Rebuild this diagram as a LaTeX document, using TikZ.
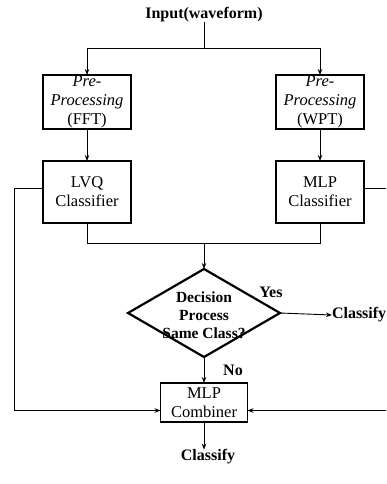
\documentclass[tikz,border=0pt]{standalone}
\usepackage{fontspec}
\setmainfont{Liberation Serif}
\usetikzlibrary{shapes.geometric,arrows.meta}
\begin{document}
\begin{tikzpicture}[x=1pt,y=-1pt,
  every node/.style={inner sep=0pt, outer sep=0pt},
  procbox/.style={draw, line width=1.5pt, align=center, font=\fontsize{16.5}{19}\selectfont},
  decbox/.style={draw, diamond, line width=2.2pt, minimum width=152pt, minimum height=88pt},
  lbl/.style={font=\bfseries\fontsize{16}{18}\selectfont, align=center},
  conn/.style={line width=0.9pt},
  arr/.style={conn, -{Stealth[length=6pt,width=4.5pt]}}]
\useasboundingbox (0,0) rectangle (386,484);
\clip (0,0) rectangle (386,484);

% input and the two preprocessing branches
\node[lbl] (inp) at (204,15) {Input(waveform)};
\coordinate (split) at (204,48);
\node[procbox, minimum width=88pt, minimum height=54pt] (pre1) at (87,102) {\itshape Pre-\\\itshape Processing\\(FFT)};
\node[procbox, minimum width=88pt, minimum height=54pt] (pre2) at (320,102) {\itshape Pre-\\\itshape Processing\\(WPT)};

% classifiers
\node[procbox, minimum width=88pt, minimum height=62pt] (lvq) at (87,192) {LVQ\\Classifier};
\node[procbox, minimum width=88pt, minimum height=62pt] (mlpc) at (320,192) {MLP\\Classifier};

% decision
\coordinate (merge) at (204,243);
\node[decbox] (dec) at (204,313) {};
\node[lbl, font=\bfseries\fontsize{15.5}{18}\selectfont] (dectext) at (204,315) {Decision\\Process\\Same Class?};
\node[lbl] (yes) at (271,292) {Yes};
\node[lbl, anchor=west] (cls1) at (332,315) {Classify};
\node[lbl] (no) at (233,370) {No};

% combiner
\node[procbox, minimum width=87pt, minimum height=39pt] (comb) at (204,402.5) {MLP\\Combiner};
\node[lbl] (cls2) at (208,457) {Classify};

% side feeds into the combiner
\coordinate (lvqout) at ([yshift=4pt]lvq.west);
\coordinate (mlpout) at ([yshift=4pt]mlpc.east);
\coordinate (combl) at ([yshift=-8pt]comb.west);
\coordinate (combr) at ([yshift=-8pt]comb.east);

\draw[conn] (inp.south) -- (split);
\draw[arr] (split) -| (pre1.north);
\draw[arr] (split) -| (pre2.north);
\draw[arr] (pre1.south) -- (lvq.north);
\draw[arr] (pre2.south) -- (mlpc.north);
\draw[conn] (lvq.south) |- (merge);
\draw[conn] (mlpc.south) |- (merge);
\draw[arr] (merge) -- (dec.north);
\draw[arr] (dec.east) -- (cls1.west);
\draw[arr] (dec.south) -- (comb.north);
\draw[arr] (comb.south) -- (comb.south |- cls2.north);
\draw[arr] (lvqout) -- (14,188) |- (combl);
\draw[arr] (mlpout) -- (394,188) |- (combr);
\end{tikzpicture}
\end{document}
